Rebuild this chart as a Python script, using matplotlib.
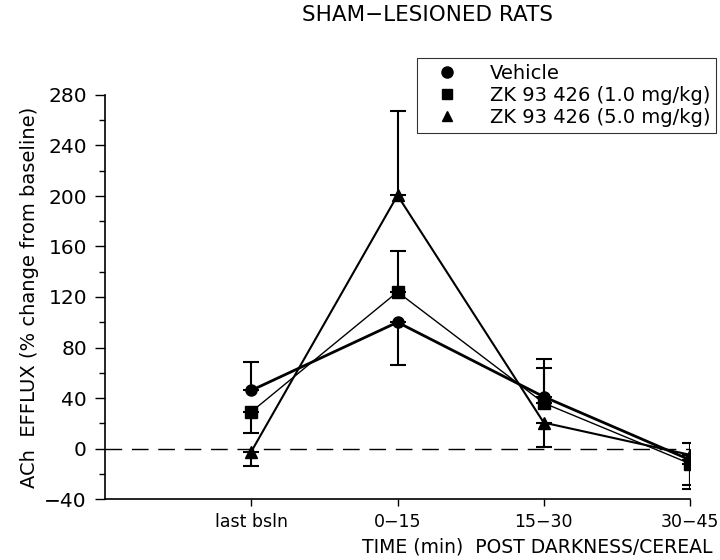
import matplotlib
matplotlib.use("Agg")
import matplotlib.pyplot as plt
from matplotlib.lines import Line2D
from matplotlib.ticker import MultipleLocator

plt.rcParams['font.family'] = ['DejaVu Sans']

categories = ["last bsln", "0\u221215", "15\u221230", "30\u221245"]
x = [1, 2, 3, 4]

vehicle = [46, 100, 41, -9]
vehicle_up = [22.5, 0, 30, 0]
vehicle_down = [0, 33.5, 0, 20]

zk1 = [29, 124, 36, -12]
zk1_up = [0, 32.5, 27.5, 0]
zk1_down = [16.5, 0, 0, 20]

zk5 = [-2.5, 200.5, 20.5, -5]
zk5_up = [0, 67, 0, 9.6]
zk5_down = [11, 0, 19, 0]

labels = ["Vehicle", "ZK 93 426 (1.0 mg/kg)", "ZK 93 426 (5.0 mg/kg)"]

fig = plt.figure(figsize=(7.2, 5.6), dpi=100)
ax = fig.add_axes([105/720, 1-499/560, (690-105)/720, (499-95)/560])

ax.axhline(0, color='black', lw=1, dashes=(12, 7), zorder=1)

ax.errorbar(x, vehicle, yerr=[vehicle_down, vehicle_up], color='black', lw=2,
            marker='o', ms=8, capsize=6, capthick=1.5, elinewidth=1.5, zorder=3)
ax.errorbar(x, zk1, yerr=[zk1_down, zk1_up], color='black', lw=1,
            marker='s', ms=8, capsize=6, capthick=1.5, elinewidth=1.5, zorder=3)
ax.errorbar(x, zk5, yerr=[zk5_down, zk5_up], color='black', lw=1.5,
            marker='^', ms=8, capsize=6, capthick=1.5, elinewidth=1.5, zorder=3)

ax.set_xlim(0, 4)
ax.set_ylim(-40, 280)
ax.set_xticks(x)
ax.set_xticklabels(categories, fontsize=12.5)
ax.yaxis.set_major_locator(MultipleLocator(40))
ax.yaxis.set_minor_locator(MultipleLocator(20))
ax.tick_params(axis='y', which='major', direction='out', length=7, width=1, labelsize=14.5, pad=6)
ax.tick_params(axis='y', which='minor', direction='out', length=4, width=1)
ax.tick_params(axis='x', direction='out', length=5, width=1, pad=5)
for s in ['top', 'right']:
    ax.spines[s].set_visible(False)
for s in ['left', 'bottom']:
    ax.spines[s].set_linewidth(1.2)

ax.set_ylabel("ACh  EFFLUX (% change from baseline)", fontsize=14, labelpad=4)
fig.text(713/720, 1-547/560, "TIME (min)  POST DARKNESS/CEREAL", fontsize=13.5,
         ha='right', va='center')
fig.text(428/720, 1-15/560, "SHAM\u2212LESIONED RATS", fontsize=15.5, ha='center', va='center')

handles = [Line2D([], [], color='black', marker=m, ls='none', ms=ms)
           for m, ms in zip(['o', 's', '^'], [8, 7, 7])]
leg = fig.legend(handles, labels, loc='upper left', bbox_to_anchor=(417/720, 1-58/560),
                 fontsize=14, frameon=True, fancybox=False, edgecolor='black',
                 handlelength=2.5, handletextpad=0.96, borderpad=0.3, labelspacing=0.15,
                 borderaxespad=0)
leg.get_frame().set_linewidth(0.8)

fig.savefig("out.png", dpi=100)
